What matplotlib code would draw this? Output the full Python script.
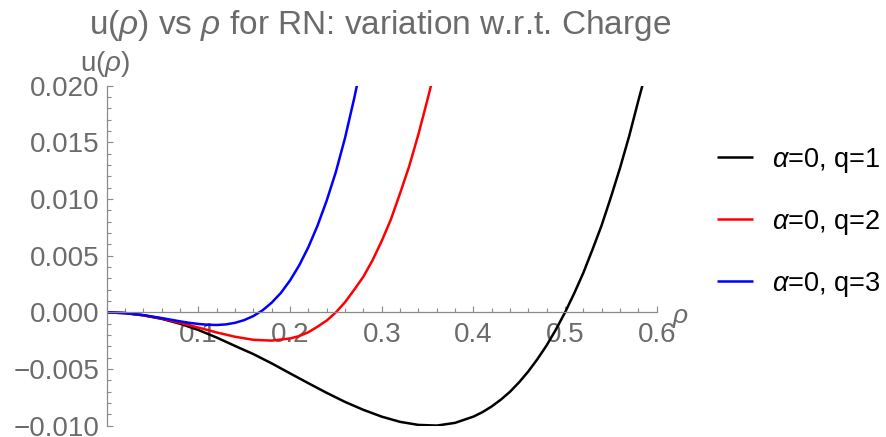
import matplotlib
matplotlib.use("Agg")
import matplotlib.pyplot as plt
from matplotlib.ticker import MultipleLocator, FixedLocator, FixedFormatter

plt.rcParams['font.family'] = ['Liberation Sans', 'DejaVu Sans']
plt.rcParams['mathtext.fontset'] = 'custom'
plt.rcParams['mathtext.rm'] = 'Liberation Sans'
plt.rcParams['mathtext.it'] = 'Liberation Sans:italic'

# values
rho_q1 = [0, 0.02, 0.04, 0.06, 0.08, 0.10, 0.12, 0.14, 0.16, 0.18, 0.20, 0.22, 0.24, 0.26,
          0.28, 0.30, 0.32, 0.34, 0.36, 0.38, 0.40, 0.41, 0.42, 0.43, 0.44, 0.45, 0.46,
          0.47, 0.48, 0.49, 0.50, 0.51, 0.52, 0.53, 0.54, 0.55, 0.56, 0.57, 0.58, 0.586]
u_q1 = [0, -0.00006, -0.00026, -0.00057, -0.00100, -0.00155, -0.00222, -0.00296, -0.00368,
        -0.00450, -0.00538, -0.00625, -0.00710, -0.00790, -0.00860, -0.00920, -0.00966,
        -0.00993, -0.00999, -0.00975, -0.00920, -0.00880, -0.00830, -0.00770, -0.00700,
        -0.00616, -0.00520, -0.00411, -0.00290, -0.00152, 0.0, 0.00168, 0.00350, 0.00556,
        0.00770, 0.01016, 0.01275, 0.01557, 0.01870, 0.0205]

rho_q2 = [0, 0.02, 0.04, 0.06, 0.08, 0.10, 0.12, 0.14, 0.16, 0.18, 0.20, 0.21, 0.22, 0.23,
          0.24, 0.25, 0.26, 0.27, 0.28, 0.29, 0.30, 0.31, 0.32, 0.33, 0.34, 0.35, 0.355]
u_q2 = [0, -0.00006, -0.00025, -0.00054, -0.00092, -0.00134, -0.00177, -0.00215, -0.00242,
        -0.00249, -0.00230, -0.00209, -0.00175, -0.00126, -0.00072, 0.0, 0.00090, 0.00200,
        0.00315, 0.00460, 0.00630, 0.0082, 0.0105, 0.0129, 0.0157, 0.0188, 0.0204]

rho_q3 = [0, 0.02, 0.04, 0.06, 0.08, 0.09, 0.10, 0.11, 0.12, 0.13, 0.14, 0.15, 0.16, 0.17,
          0.18, 0.19, 0.20, 0.21, 0.22, 0.23, 0.24, 0.25, 0.26, 0.27, 0.275]
u_q3 = [0, -0.00006, -0.00024, -0.00050, -0.00079, -0.00092, -0.00102, -0.00109, -0.00111,
        -0.00106, -0.00092, -0.00068, -0.00032, 0.00018, 0.00086, 0.00172, 0.00282, 0.00415,
        0.00576, 0.00766, 0.00987, 0.0124, 0.0154, 0.0189, 0.0208]

labels = [r'$\alpha$=0, q=1', r'$\alpha$=0, q=2', r'$\alpha$=0, q=3']
colors = ['black', '#ff0000', '#0000ff']

yticks = [-0.010, -0.005, 0.0, 0.005, 0.010, 0.015, 0.020]
ytick_labels = ['\u22120.010', '\u22120.005', '0.000', '0.005', '0.010', '0.015', '0.020']
xticks = [0.1, 0.2, 0.3, 0.4, 0.5, 0.6]
xtick_labels = ['0.1', '0.2', '0.3', '0.4', '0.5', '0.6']

W, H = 886, 437
fig = plt.figure(figsize=(W / 100, H / 100), dpi=100)
ax = fig.add_axes([106.7 / W, 1 - 425.7 / H, 550 / W, (425.7 - 85.8) / H])

for r, u, c, lab in zip([rho_q1, rho_q2, rho_q3], [u_q1, u_q2, u_q3], colors, labels):
    ax.plot(r, u, color=c, lw=1.8, label=lab, solid_capstyle='butt', solid_joinstyle='round')

ax.set_xlim(0, 0.6)
ax.set_ylim(-0.010, 0.020)

axis_col = '#8a8a8a'
text_col = '#6b6b6b'
ax.spines['top'].set_visible(False)
ax.spines['right'].set_visible(False)
ax.spines['bottom'].set_position(('data', 0))
for s in ['left', 'bottom']:
    ax.spines[s].set_color(axis_col)
    ax.spines[s].set_linewidth(0.9)

ax.xaxis.set_major_locator(FixedLocator(xticks))
ax.xaxis.set_major_formatter(FixedFormatter(xtick_labels))
ax.xaxis.set_minor_locator(MultipleLocator(0.02))
ax.yaxis.set_major_locator(FixedLocator(yticks))
ax.yaxis.set_major_formatter(FixedFormatter(ytick_labels))
ax.yaxis.set_minor_locator(MultipleLocator(0.001))

ax.tick_params(axis='both', which='both', direction='in', color=axis_col,
               labelcolor=text_col, labelsize=20, width=0.8)
ax.tick_params(axis='both', which='major', length=4.5)
ax.tick_params(axis='both', which='minor', length=2.8)
ax.tick_params(axis='x', which='major', pad=7)
ax.tick_params(axis='y', which='major', pad=5)

fig.text(380.5 / W, 1 - 34 / H, r'u($\rho$) vs $\rho$ for RN: variation w.r.t. Charge',
         ha='center', va='baseline', fontsize=24, color=text_col)
fig.text(105 / W, 1 - 71 / H, r'u($\rho$)', ha='center', va='baseline',
         fontsize=20, color=text_col)
fig.text(672 / W, 1 - 318 / H, r'$\rho$', ha='left', va='center',
         fontsize=19, color=text_col)

fig.legend(loc='center left', bbox_to_anchor=(717 / W, 1 - 222.3 / H), frameon=False,
           fontsize=19.5, handlelength=1.33, handletextpad=0.7, labelspacing=1.22,
           borderpad=0, borderaxespad=0)

fig.savefig('out.png', dpi=100)
